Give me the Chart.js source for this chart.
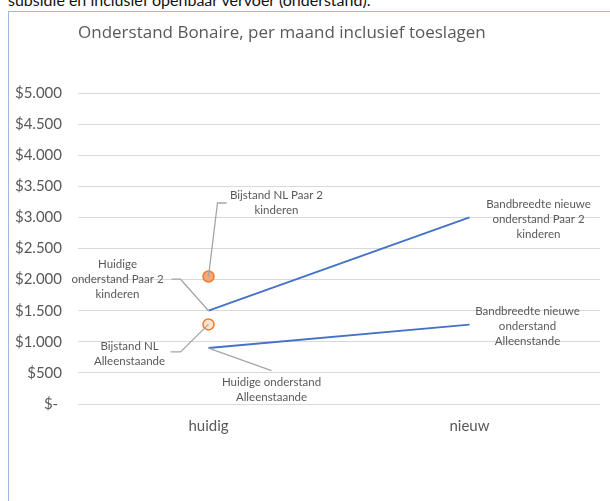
<!DOCTYPE html>
<html>
<head>
<meta charset="utf-8">
<script src="https://cdn.jsdelivr.net/npm/chart.js@4.4.0/dist/chart.umd.min.js"></script>
<style>
  body { margin: 0; background: #fff; overflow: hidden; }
  #above { position: absolute; left: 8px; top: -10px; font: 16px Lato, sans-serif; color: #111; white-space: nowrap; }
  #box { position: absolute; left: 8px; top: 11px; width: 640px; height: 520px;
         border-left: 1.5px solid #9DB9E8; border-top: 1.5px solid #9DB9E8; }
  #c { position: absolute; left: 0; top: 0; }
</style>
</head>
<body>
<div id="above">subsidie en inclusief openbaar vervoer (onderstand).</div>
<div id="box"></div>
<canvas id="c" width="610" height="501"></canvas>
<script>
const title = "Onderstand Bonaire, per maand inclusief toeslagen";
const categories = ["huidig", "nieuw"];
const paarKinderen = [1500, 3000];
const alleenstaande = [900, 1275];
const bijstandPaar = [2050, null];
const bijstandAlleen = [1280, null];
const yMax = 5000;
const yStep = 500;

// label texts, tied to a dataset + category
const notes = [
  { text: ["Bijstand NL Paar 2", "kinderen"], ds: 2, i: 0 },
  { text: ["Huidige", "onderstand Paar 2", "kinderen"], ds: 0, i: 0 },
  { text: ["Bijstand NL", "Alleenstaande"], ds: 3, i: 0 },
  { text: ["Huidige onderstand", "Alleenstaande"], ds: 1, i: 0 },
  { text: ["Bandbreedte nieuwe", "onderstand Paar 2", "kinderen"], ds: 0, i: 1 },
  { text: ["Bandbreedte nieuwe", "onderstand", "Alleenstande"], ds: 1, i: 1 }
];
// placement of each label relative to its point (px)
const noteLayout = [
  { dx: 68, dy: -81.5, lead: [[0, 0], [9, -73.5], [18, -73.5]] },
  { dx: -91, dy: -46.5, lead: [[-37, -31.5], [-28, -31.5], [0, 0]] },
  { dx: -79, dy: 21.5, lead: [[-38, 27.5], [-28, 27.5], [0, 0]] },
  { dx: 63, dy: 34.5, lead: [[0, 0], [63, 22.5]] },
  { dx: 69, dy: -13.5, lead: null },
  { dx: 58, dy: -13, lead: null }
];

const fmt = v => v === 0 ? "$- " : "$" + String(v).replace(/\B(?=(\d{3})+(?!\d))/g, ".");

const notesPlugin = {
  id: "notes",
  afterDraw(chart) {
    const ctx = chart.ctx;
    ctx.save();
    // title
    ctx.font = "17px 'Open Sans', sans-serif";
    ctx.fillStyle = "#595959";
    ctx.textAlign = "left";
    ctx.textBaseline = "middle";
    ctx.fillText(title, chart.chartArea.left, 33);

    notes.forEach((n, k) => {
      const el = chart.getDatasetMeta(n.ds).data[n.i];
      const x = el.x, y = el.y;
      const L = noteLayout[k];
      if (L.lead) {
        ctx.strokeStyle = "#A6A6A6";
        ctx.lineWidth = 1.3;
        ctx.beginPath();
        L.lead.forEach((p, j) => j ? ctx.lineTo(x + p[0], y + p[1]) : ctx.moveTo(x + p[0], y + p[1]));
        ctx.stroke();
      }
      ctx.font = "11.5px Lato, sans-serif";
      ctx.fillStyle = "#595959";
      ctx.textAlign = "center";
      n.text.forEach((t, j) => ctx.fillText(t, x + L.dx, y + L.dy + j * 15));
    });
    ctx.restore();
  }
};

new Chart(document.getElementById("c"), {
  type: "line",
  data: {
    labels: categories,
    datasets: [
      { data: paarKinderen, borderColor: "#4472C4", borderWidth: 1.8, pointRadius: 0 },
      { data: alleenstaande, borderColor: "#4472C4", borderWidth: 1.8, pointRadius: 0 },
      { data: bijstandPaar, showLine: false, pointRadius: 5.5, pointBorderWidth: 1.5,
        pointBorderColor: "#ED7D31", pointBackgroundColor: "#F4A97A" },
      { data: bijstandAlleen, showLine: false, pointRadius: 5.5, pointBorderWidth: 1.5,
        pointBorderColor: "#ED7D31", pointBackgroundColor: "#FBE3D3" }
    ]
  },
  options: {
    responsive: false,
    animation: false,
    layout: { padding: { left: 0, top: 93, right: 10, bottom: 57 } },
    plugins: { legend: { display: false }, tooltip: { enabled: false } },
    scales: {
      x: {
        offset: true,
        grid: { display: false },
        border: { display: false },
        ticks: { color: "#595959", font: { family: "Lato", size: 15 }, padding: 5 },
        afterFit(s) { s.height = 40; }
      },
      y: {
        min: 0, max: yMax,
        grid: { color: "#D9D9D9", lineWidth: 1, drawTicks: false },
        border: { display: false },
        ticks: { stepSize: yStep, color: "#595959", font: { family: "Lato", size: 15 }, padding: 16, callback: fmt },
        afterFit(s) { s.width = 78; }
      }
    }
  },
  plugins: [notesPlugin]
});
</script>
</body>
</html>
